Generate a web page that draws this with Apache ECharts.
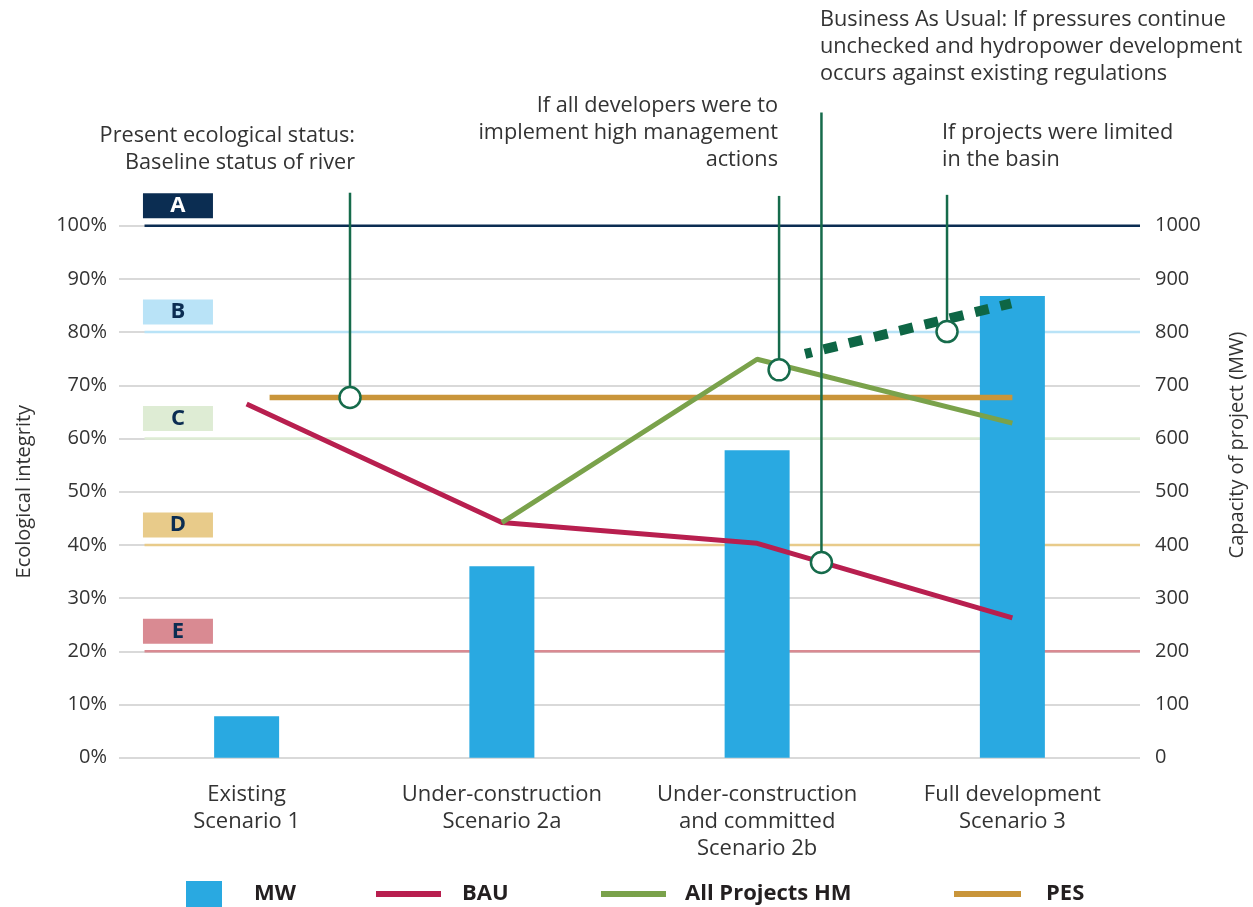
<!DOCTYPE html>
<html>
<head>
<meta charset="utf-8">
<script src="https://cdn.jsdelivr.net/npm/echarts@6/dist/echarts.min.js"></script>
<style>html,body{margin:0;padding:0;background:#fff}#c{width:1253px;height:907px}</style>
</head>
<body>
<div id="c"></div>
<script>
// ---- data ----
const categories = ['Existing\nScenario 1', 'Under-construction\nScenario 2a', 'Under-construction\nand committed\nScenario 2b', 'Full development\nScenario 3'];
const mwValues = [78, 360, 578, 868];
const bauValues = [66.5, 44.2, 40.3, 26.3];
const hmValues = [null, 44.2, 74.9, 62.9];
const pesValue = 67.7;
const pesExtent = [0.59, 3.5];              // on band scale (category i centre = i + 0.5)
const limitedLine = [[2.688, 75.9], [3.495, 85.4]];
const gradeNames = ['A', 'B', 'C', 'D', 'E'];
const gradeValues = [100, 80, 60, 40, 20];
const pctTicks = [0, 10, 20, 30, 40, 50, 60, 70, 80, 90, 100];
const mwTicks = [0, 100, 200, 300, 400, 500, 600, 700, 800, 900, 1000];
const annotationPoints = [[0.905, 67.7], [2.586, 72.9], [2.752, 36.7], [3.244, 80.1]];
const annotationTexts = [
  'Present ecological status:\nBaseline status of river',
  'If all developers were to\nimplement high management\nactions',
  'Business As Usual: If pressures continue\nunchecked and hydropower development\noccurs against existing regulations',
  'If projects were limited\nin the basin'
];

// ---- styles ----
const FONT = '"Open Sans", "DejaVu Sans", sans-serif';
const gradeColors = ['#0b2d52', '#b9e3f7', '#deecd4', '#e8cb8a', '#d98a92'];
const gradeText = ['#ffffff', '#0b2d52', '#0b2d52', '#0b2d52', '#0b2d52'];
const annColor = '#166b4b';
const annTops = [106.2, 105.6, 121.3, 105.8];
const annTextPos = [
  {x: 355, y: 122, align: 'right'},
  {x: 778, y: 92, align: 'right'},
  {x: 820, y: 6, align: 'left'},
  {x: 942, y: 119, align: 'left'}
];

const chart = echarts.init(document.getElementById('c'), null, {renderer: 'canvas'});

const series = [];
// grade lines
gradeValues.forEach((g, i) => {
  series.push({
    name: 'grade' + gradeNames[i], type: 'line', xAxisIndex: 1, yAxisIndex: 0,
    data: [[0.1, g], [4.0, g]], symbol: 'none', silent: true, z: 1, clip: false,
    lineStyle: {color: gradeColors[i], width: 2.5, opacity: 1}
  });
});
// bars
series.push({
  name: 'MW', type: 'bar', xAxisIndex: 0, yAxisIndex: 1, data: mwValues,
  barWidth: 65, itemStyle: {color: '#29a9e1', opacity: 1}, z: 2
});
series.push({
  name: 'PES', type: 'line', xAxisIndex: 1, yAxisIndex: 0,
  data: [[pesExtent[0], pesValue], [pesExtent[1], pesValue]],
  symbol: 'none', z: 3, itemStyle: {color: '#c9953a'},
  lineStyle: {color: '#c9953a', width: 5.5, cap: 'butt'}
});
series.push({
  name: 'BAU', type: 'line', xAxisIndex: 0, yAxisIndex: 0, data: bauValues,
  symbol: 'none', z: 3, itemStyle: {color: '#b81f4f'},
  lineStyle: {color: '#b81f4f', width: 5, cap: 'butt'}
});
series.push({
  name: 'All Projects HM', type: 'line', xAxisIndex: 0, yAxisIndex: 0, data: hmValues,
  symbol: 'none', z: 3, itemStyle: {color: '#7aa24b'},
  lineStyle: {color: '#7aa24b', width: 5, cap: 'butt'}
});
series.push({
  name: 'limited', type: 'line', xAxisIndex: 1, yAxisIndex: 0, data: limitedLine,
  symbol: 'none', z: 3, silent: true,
  lineStyle: {color: '#0e6645', width: 10, type: [14, 12], dashOffset: 7, cap: 'butt'}
});
// annotation leader lines
annotationPoints.forEach((p, i) => {
  series.push({
    name: 'ann' + i, type: 'line', xAxisIndex: 1, yAxisIndex: 0,
    data: [[p[0], annTops[i]], [p[0], p[1]]], symbol: 'none', z: 4, clip: false, silent: true,
    lineStyle: {color: annColor, width: 2.5}
  });
});
series.push({
  name: 'annDots', type: 'scatter', xAxisIndex: 1, yAxisIndex: 0, data: annotationPoints,
  symbol: 'circle', symbolSize: 21, z: 5, silent: true, clip: false,
  itemStyle: {color: '#ffffff', borderColor: annColor, borderWidth: 2.5, opacity: 1}
});
// grade boxes
series.push({
  name: 'gradeBoxes', type: 'scatter', xAxisIndex: 1, yAxisIndex: 0, clip: false, silent: true,
  data: gradeValues.map((g, i) => ({
    value: [0.231, g],
    itemStyle: {color: gradeColors[i], opacity: 1},
    label: {color: gradeText[i]}
  })),
  symbol: 'rect', symbolSize: [70, 25], symbolOffset: [0, -20], z: 6,
  itemStyle: {opacity: 1},
  label: {show: true, position: 'inside', fontSize: 22, fontWeight: 'bold', fontFamily: FONT,
    formatter: (p) => gradeNames[p.dataIndex]}
});

function legendFor(name, left, width, height, pad, icon) {
  const l = {
    data: [icon ? {name: name, icon: icon} : name], left: left, top: 881, padding: 0,
    itemWidth: width, itemHeight: height, selectedMode: false,
    textStyle: {fontSize: 22, fontWeight: 'bold', color: '#231f20', fontFamily: FONT, lineHeight: 26, padding: [0, 0, 0, pad]}
  };
  if (!icon) l.lineStyle = {width: 6, cap: 'butt'};
  return l;
}

const option = {
  animation: false,
  textStyle: {fontFamily: FONT},
  grid: {left: 119, right: 113, top: 225.7, bottom: 149.3, containLabel: false, outerBoundsMode: 'none'},
  legend: [
    legendFor('MW', 186, 36, 26, 27, 'rect'),
    legendFor('BAU', 373, 65, 6, 16),
    legendFor('All Projects HM', 598, 65, 6, 14),
    legendFor('PES', 951, 67, 6, 20)
  ],
  xAxis: [
    {type: 'category', data: categories, boundaryGap: true,
      axisLine: {show: false}, axisTick: {show: false},
      axisLabel: {interval: 0, fontSize: 22, lineHeight: 27, color: '#333', margin: 24, fontFamily: FONT}},
    {type: 'value', min: 0, max: 4, show: false}
  ],
  yAxis: [
    {type: 'value', min: pctTicks[0], max: pctTicks[pctTicks.length - 1], interval: pctTicks[1] - pctTicks[0],
      name: 'Ecological integrity', nameLocation: 'middle', nameRotate: 90, nameGap: 85,
      nameTextStyle: {fontSize: 20, color: '#333', fontFamily: FONT},
      axisLine: {show: false}, axisTick: {show: false},
      axisLabel: {formatter: (v) => v + '%', fontSize: 20, color: '#333', margin: 12, fontFamily: FONT},
      splitLine: {show: true, lineStyle: {color: '#d9d9d9', width: 2}}},
    {type: 'value', min: mwTicks[0], max: mwTicks[mwTicks.length - 1], interval: mwTicks[1] - mwTicks[0],
      position: 'right',
      axisLine: {show: false}, axisTick: {show: false},
      axisLabel: {formatter: (v) => String(v), fontSize: 20, color: '#333', margin: 15, fontFamily: FONT},
      splitLine: {show: false}}
  ],
  graphic: annotationTexts.map((t, i) => ({
    type: 'text', x: annTextPos[i].x, y: annTextPos[i].y, silent: true,
    style: {text: t, fill: '#333', fontSize: 21.7, fontFamily: FONT, lineHeight: 27,
      align: annTextPos[i].align, verticalAlign: 'top',
      textAlign: annTextPos[i].align, textVerticalAlign: 'top'}
  })).concat([{
    type: 'text', x: 1237, y: 445, rotation: Math.PI / 2, silent: true,
    style: {text: 'Capacity of project (MW)', fill: '#333', fontSize: 20, fontFamily: FONT,
      align: 'center', verticalAlign: 'middle', textAlign: 'center', textVerticalAlign: 'middle'}
  }]),
  series: series
};
chart.setOption(option);
</script>
</body>
</html>
